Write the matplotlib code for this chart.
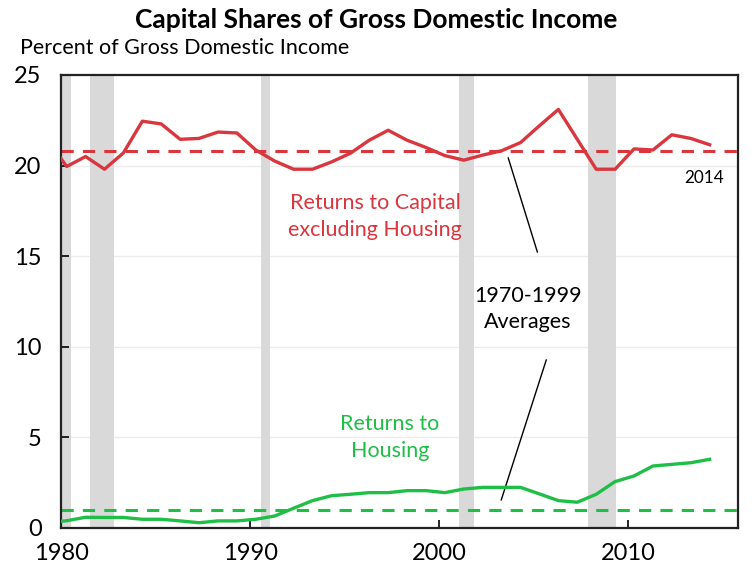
import matplotlib
matplotlib.use('Agg')
import matplotlib.pyplot as plt

plt.rcParams['font.family'] = ['Lato', 'DejaVu Sans']

# annual data, 1979-2014 (1979 only to carry the line to the left edge)
years = list(range(1979, 2015))
capital = [21.4, 19.95, 20.5, 19.8, 20.7, 22.45, 22.3, 21.45, 21.5, 21.85, 21.8,
           20.86, 20.25, 19.8, 19.8, 20.2, 20.68, 21.4, 21.95, 21.4, 21.0, 20.55,
           20.3, 20.58, 20.82, 21.27, 22.2, 23.1, 21.45, 19.8, 19.8, 20.92, 20.86,
           21.7, 21.5, 21.15]
housing = [0.3, 0.4, 0.59, 0.58, 0.58, 0.48, 0.48, 0.39, 0.29, 0.39, 0.39,
           0.48, 0.66, 1.09, 1.51, 1.78, 1.86, 1.95, 1.95, 2.06, 2.06, 1.95,
           2.15, 2.24, 2.24, 2.24, 1.88, 1.51, 1.42, 1.86, 2.56, 2.87, 3.42,
           3.51, 3.6, 3.79]
capital_avg = 20.82
housing_avg = 1.0

# NBER recessions (start, end) in fractional years
recessions = [(1980.0, 1980.55), (1981.55, 1982.8), (1990.55, 1991.05),
              (2001.05, 2001.85), (2007.85, 2009.35)]

red = '#d9363e'
green = '#1fbf47'

fig = plt.figure(figsize=(7.55, 5.8), dpi=100)
ax = fig.add_axes([0.0808, 0.0897, 0.8967, 0.781])

for s, e in recessions:
    ax.axvspan(s, e, color='#d9d9d9', lw=0, zorder=1)

for v in [5, 10, 15, 20]:
    ax.axhline(v, color='#ececec', lw=1, zorder=0)

x = [y + 0.3 for y in years]
ax.plot(x, capital, color=red, lw=2.4, zorder=3)
ax.plot(x, housing, color=green, lw=2.4, zorder=3)
ax.axhline(capital_avg, color=red, lw=2.2, ls=(0, (4, 3)), zorder=2)
ax.axhline(housing_avg, color=green, lw=2.2, ls=(0, (4, 3)), zorder=2)

ax.set_xlim(1980, 2015.8)
ax.set_ylim(0, 25)
ax.set_xticks([1980, 1990, 2000, 2010])
ax.set_yticks([0, 5, 10, 15, 20, 25])
ax.tick_params(direction='in', length=6, width=1.2, labelsize=17)
ax.tick_params(axis='x', pad=11)
ax.tick_params(axis='y', pad=14)
for sp in ax.spines.values():
    sp.set_linewidth(1.6)
    sp.set_color('#222222')

ax.text(1996.6, 17.2, 'Returns to Capital\nexcluding Housing', color=red,
        fontsize=15.5, ha='center', va='center', linespacing=1.45)
ax.text(1997.4, 5.0, 'Returns to\nHousing', color=green,
        fontsize=15.5, ha='center', va='center', linespacing=1.4)
ax.text(2014.0, 19.3, '2014', color='black', fontsize=12.3, ha='center', va='center')
ax.text(2004.7, 12.1, '1970-1999\nAverages', color='black',
        fontsize=15.5, ha='center', va='center', linespacing=1.35)
ax.plot([2003.65, 2005.19], [20.42, 15.23], color='black', lw=1)
ax.plot([2005.66, 2003.28], [9.27, 1.55], color='black', lw=1)

fig.text(0.498, 0.9655, 'Capital Shares of Gross Domestic Income',
         fontsize=19, fontweight='bold', ha='center', va='center')
fig.text(0.026, 0.917, 'Percent of Gross Domestic Income',
         fontsize=15.5, ha='left', va='center')

fig.savefig('out.png', dpi=100)
